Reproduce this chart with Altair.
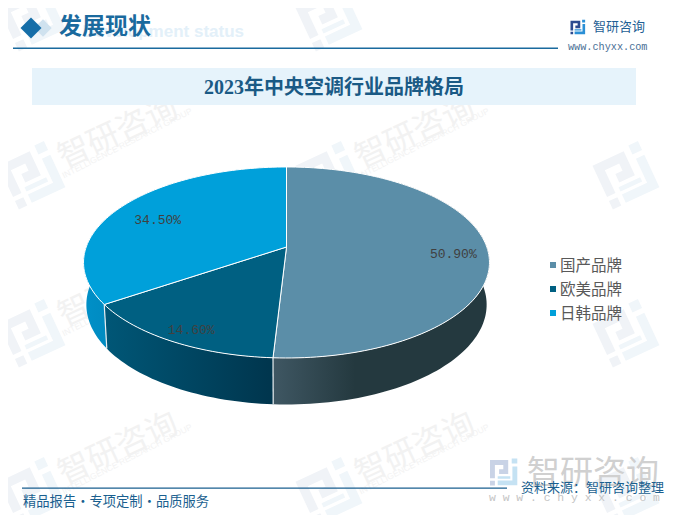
import math
import altair as alt
import pandas as pd

categories = ["国产品牌", "欧美品牌", "日韩品牌"]
shares = [50.9, 14.6, 34.5]
share_labels = ["50.90%", "14.60%", "34.50%"]

TOP_COLORS = ["#5b8ea8", "#006082", "#00a0da"]
WALL_GRADIENTS = [
    [("#3f5763", 0), ("#24393f", 0.38), ("#24393f", 1)],
    [("#005777", 0), ("#00354d", 1)],
    [("#0090c8", 0), ("#0082b4", 1)],
]
LABEL_RADII = [0.83, 0.85, 0.77]

SERIF = "'Liberation Serif','Noto Sans CJK SC'"
CJK = "Noto Sans CJK SC"
MONO = "Liberation Mono"

W, H = 663, 507
xs = alt.Scale(domain=[8, 8 + W])
ys = alt.Scale(domain=[8 + H, 8])
X = alt.X("x:Q", scale=xs, axis=None)
Y = alt.Y("y:Q", scale=ys, axis=None)
X2 = alt.X2("x2:Q")
Y2 = alt.Y2("y2:Q")

# perspective disc: top and bottom faces of the pie
CX = 286.5
K = 0.162
TOP = dict(hub=247.0, r=200.3, b=93.0)
BOT = dict(hub=288.5, r=197.5, b=97.2)


def project(deg, face, rho=1.0):
    a = math.radians(deg)
    u, v = rho * math.sin(a), -rho * math.cos(a)
    s = 1 / (1 - K * v)
    return CX + face["r"] * u * s, face["hub"] + face["b"] * v * s


def arc(a0, a1, face):
    n = max(2, int(abs(a1 - a0) / 1.5))
    return [project(a0 + (a1 - a0) * i / n, face) for i in range(n + 1)]


def poly(pts, **kw):
    df = pd.DataFrame([{"x": p[0], "y": p[1], "i": i} for i, p in enumerate(pts)])
    return alt.Chart(df).mark_line(interpolate="linear", **kw).encode(
        x=X, y=Y, order=alt.Order("i:Q")
    )


def text(s, x, y, size, color, font=CJK, align="left", weight="normal", angle=0):
    return alt.Chart(pd.DataFrame([{"x": x, "y": y, "t": s}])).mark_text(
        text=s, fontSize=size, color=color, font=font, align=align,
        baseline="middle", fontWeight=weight, angle=angle
    ).encode(x=X, y=Y)


def rect(x0, x1, y0, y1, color):
    return alt.Chart(pd.DataFrame([{"x": x0, "x2": x1, "y": y0, "y2": y1}])).mark_rect(
        color=color, opacity=1
    ).encode(x=X, x2=X2, y=Y, y2=Y2)


def sym(x, y, shape, size, color, angle=0):
    return alt.Chart(pd.DataFrame([{"x": x, "y": y}])).mark_point(
        shape=shape, size=size, fill=color, filled=True, opacity=1,
        strokeWidth=0, angle=angle
    ).encode(x=X, y=Y)


LOGO_A = ("M-1 -0.85H0.3V0.15H-0.35V-0.2H-0.05V-0.5H-0.65V0.45H-1Z"
          "M-1 0.62H-0.65V0.97H-1Z")
LOGO_B = ("M0.55 -0.97H0.95V-0.6H0.55Z"
          "M0.6 -0.4H0.95V0.95H-0.45V0.6H0.6Z"
          "M-0.45 0.3H0.45V0.48H-0.45Z")

layers = []

# repeated watermark
for cx in [118, 415]:
    for cy in [133, 291, 449]:
        layers.append(sym(cx - 86, cy + 42, LOGO_A, 2800, "#f0f3f7", 335))
        layers.append(sym(cx - 86, cy + 42, LOGO_B, 2800, "#f0f6fa", 335))
        layers.append(text("智研咨询", cx, cy, 32, "#f2f2f2", align="center", angle=335))
        layers.append(text("INTELLIGENCE RESEARCH GROUP", cx + 9, cy + 10, 8.5, "#f3f3f3",
                           font="Liberation Sans", align="center", angle=333))
for cy in [133, 291, 449]:
    layers.append(sym(626, cy + 42, LOGO_A, 2800, "#f0f3f7", 335))
    layers.append(sym(626, cy + 42, LOGO_B, 2800, "#f0f6fa", 335))
for cx in [118, 415]:
    layers.append(sym(cx - 86, 17, LOGO_A, 2800, "#f0f3f7", 335))
    layers.append(sym(cx - 86, 17, LOGO_B, 2800, "#f0f6fa", 335))

# header
layers.append(sym(43, 28, "diamond", 300, "#cfe2ef"))
layers.append(sym(31, 28, "diamond", 440, "#166ea8"))
layers.append(text("Development status", 244, 32, 17, "#e3f0f9", font="Liberation Sans",
                   align="right", weight="bold"))
layers.append(text("发展现状", 59, 27, 23, "#1a6a9e", weight="bold"))
layers.append(rect(13, 558, 47.5, 49, "#1a6a9e"))
layers.append(sym(578, 27, LOGO_A, 225, "#2b4a8f"))
layers.append(sym(578, 27, LOGO_B, 225, "#2a8fd6"))
layers.append(text("智研咨询", 593, 27, 13, "#1f5f95"))
layers.append(text("www.chyxx.com", 568, 46.5, 10.2, "#4a6f95", font=MONO))

# title band
layers.append(rect(32, 636, 68, 105, "#e6f3fb"))
layers.append(text("2023年中央空调行业品牌格局", 334, 88, 20, "#1a5a85", font=SERIF,
                   align="center", weight="bold"))

# pie
cum = [0.0]
for s in shares:
    cum.append(cum[-1] + s * 3.6)
wall_ranges = [(40, cum[1]), (cum[1], cum[2]), (cum[2], 310)]
for (a0, a1), stops in zip(wall_ranges, WALL_GRADIENTS):
    pts = arc(a0, a1, TOP) + arc(a1, a0, BOT)
    pts.append(pts[0])
    grad = alt.Gradient(
        gradient="linear", x1=0, x2=1, y1=0, y2=0,
        stops=[alt.GradientStop(color=c, offset=o) for c, o in stops],
    )
    layers.append(poly(pts, fill=grad, strokeOpacity=0))
for a in [cum[1], cum[2]]:
    layers.append(poly([project(a, TOP), project(a, BOT)], stroke="#e8edf0", strokeWidth=1.2))
for i, color in enumerate(TOP_COLORS):
    hub = (CX, TOP["hub"])
    pts = [hub] + arc(cum[i], cum[i + 1], TOP) + [hub]
    layers.append(poly(pts, fill=color, stroke="white", strokeWidth=1))
for i, lab in enumerate(share_labels):
    px, py = project((cum[i] + cum[i + 1]) / 2, TOP, LABEL_RADII[i])
    layers.append(text(lab, px, py + 5, 13, "#404040", font=MONO, align="center"))

# legend
for i, name in enumerate(categories):
    ly = 265 + 24 * i
    layers.append(rect(550, 556, ly - 3, ly + 3, TOP_COLORS[i]))
    layers.append(text(name, 560, ly + 0.5, 15.5, "#595959"))

# footer
layers.append(sym(504, 472, LOGO_A, 784, "#c9d3e6"))
layers.append(sym(504, 472, LOGO_B, 784, "#c5e2f3"))
layers.append(text("智研咨询", 527, 474, 33, "#d0d0d0"))
layers.append(text("w w w . c h y x x . c o m", 489, 498, 11.4, "#c4c4c4", font=MONO))
layers.append(rect(22, 507, 487.5, 488.7, "#1a5f8f"))
layers.append(text("精品报告·专项定制·品质服务", 23, 502, 13.3, "#1a5f8f"))
layers.append(text("资料来源：智研咨询整理", 521, 488, 13, "#1a5f8f"))

chart = alt.layer(*layers).properties(
    width=W, height=H, padding=0, autosize=alt.AutoSizeParams(type="none"),
    background="white",
).configure_view(stroke=None)

chart.save("out.html", embed_options={"renderer": "svg", "actions": False})
